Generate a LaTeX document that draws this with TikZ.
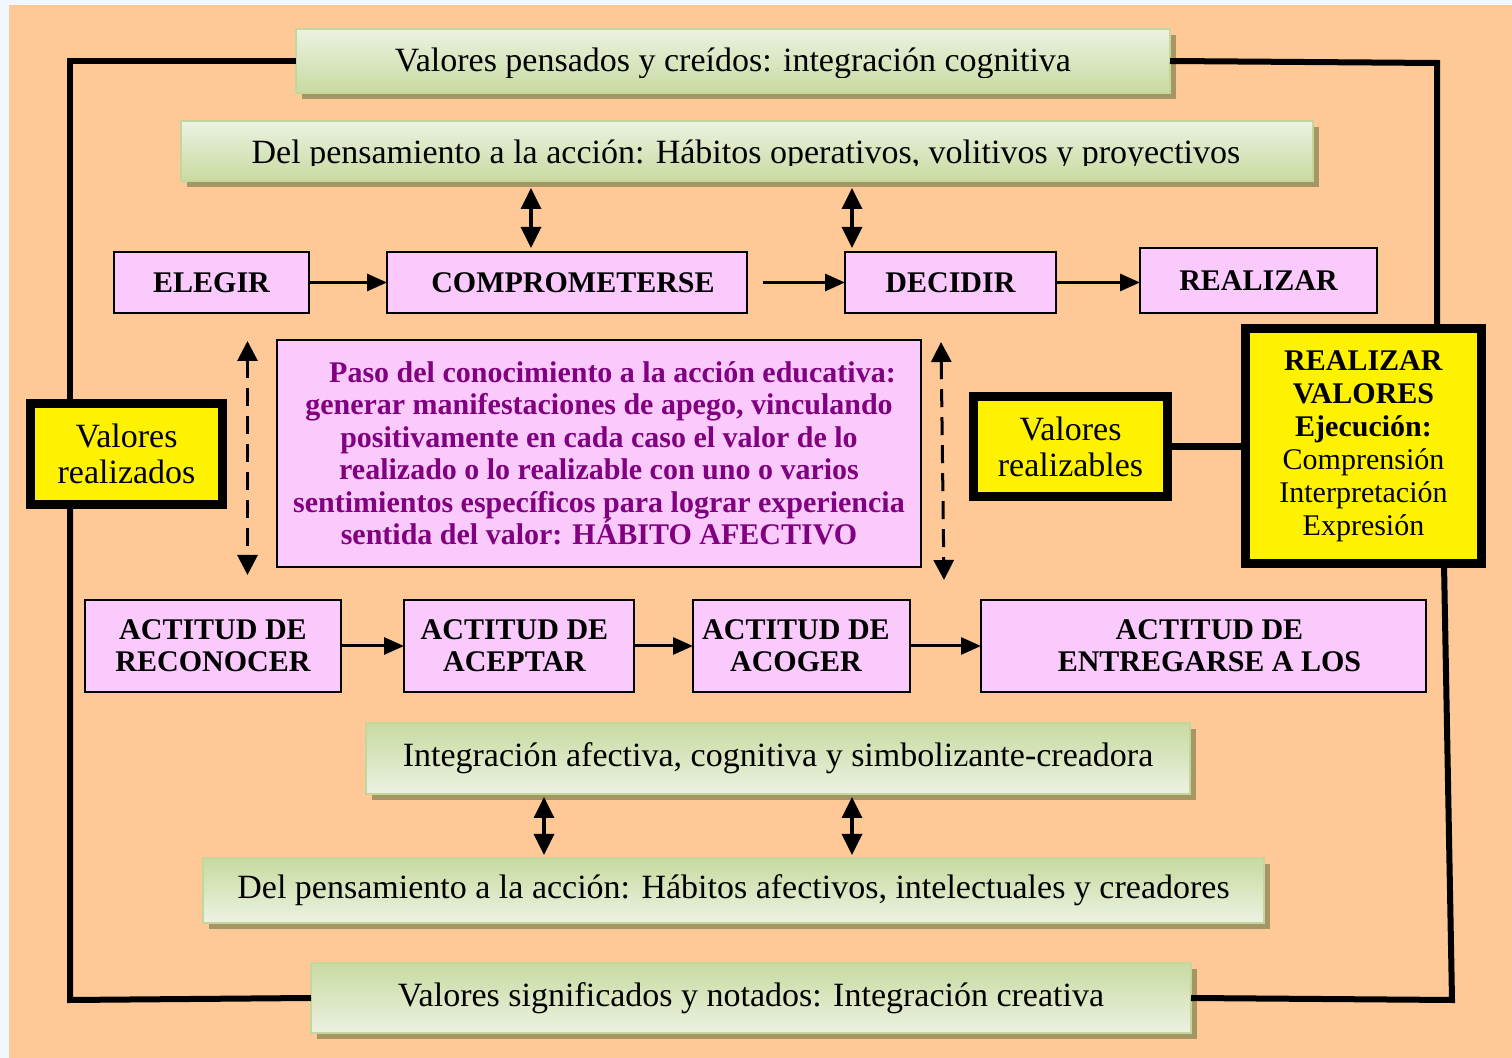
\documentclass[tikz,border=0pt]{standalone}
\usepackage{fontspec}
\setmainfont{Liberation Serif}
\usetikzlibrary{arrows.meta,calc,shadows}
\definecolor{pagebg}{RGB}{240,247,254}
\definecolor{bgorange}{RGB}{254,201,150}
\definecolor{gtop}{RGB}{236,242,226}
\definecolor{gbot}{RGB}{200,218,160}
\definecolor{gedge}{RGB}{196,214,155}
\definecolor{gshadow}{RGB}{166,150,100}
\definecolor{pinkfill}{RGB}{250,202,253}
\definecolor{ptext}{RGB}{128,0,128}
\tikzset{
  every node/.style={outer sep=0pt},
  gbox/.style={draw=gedge, line width=1pt, top color=gtop, bottom color=gbot, inner sep=0pt,
    font=\fontsize{17pt}{19pt}\selectfont,
    drop shadow={shadow xshift=3pt, shadow yshift=-3pt, fill=gshadow, opacity=1}},
  gboxr/.style={gbox, top color=gbot, bottom color=gtop},
  gtext/.style={anchor=base, inner sep=0pt, font=\fontsize{17pt}{19pt}\selectfont},
  pbox/.style={draw=black, line width=1.25pt, fill=pinkfill, inner sep=0pt, align=center,
    font=\bfseries\fontsize{15pt}{16pt}\selectfont},
  ybox/.style={draw=black, line width=4.5pt, fill=yellow, inner sep=0pt, align=center},
  arr/.style={line width=1.5pt, -{Triangle[length=10pt,width=8.5pt]}},
  darr/.style={line width=1.75pt, {Triangle[length=10.5pt,width=10pt]}-{Triangle[length=10.5pt,width=10pt]}},
  dasharr/.style={line width=1.5pt, dash pattern=on 9pt off 5pt,
    {Triangle[length=10pt,width=10pt]}-{Triangle[length=10pt,width=10pt]}},
  frameline/.style={line width=3pt, line join=miter},
}
\begin{document}
\begin{tikzpicture}[x=0.5pt,y=-0.5pt]
\useasboundingbox (0,0) rectangle (1512,1058);
\fill[pagebg] (0,0) rectangle (1512,1058);
\fill[bgorange] (9,5) rectangle (1512,1058);

% green boxes
\node[gbox, minimum width=437pt, minimum height=32pt] (g1) at (733,61) {};
\node[gbox, minimum width=566pt, minimum height=30pt] (g2) at (747,151) {};
\node[gboxr, minimum width=412pt, minimum height=35.5pt] (g3) at (778,758.5)
  {Integración afectiva, cognitiva y simbolizante-creadora};
\node[gboxr, minimum width=530.5pt, minimum height=32.5pt] (g4) at (733.5,890.5)
  {Del pensamiento a la acción: Hábitos afectivos, intelectuales y creadores};
\node[gboxr, minimum width=440pt, minimum height=35pt] (g5) at (751,998)
  {Valores significados y notados: Integración creativa};

\begin{scope}
  \clip (296,25) rectangle (1170,78);
  \node[gtext] (t1) at (733,72) {Valores pensados y creídos: integración cognitiva};
\end{scope}
\begin{scope}
  \clip (181,118) rectangle (1313,166);
  \node[gtext] (t2) at (746,164) {Del pensamiento a la acción: Hábitos operativos, volitivos y proyectivos};
\end{scope}

% top row
\node[pbox, minimum width=97.5pt, minimum height=30.5pt] (e1) at (211.5,282.5) {ELEGIR};
\node[pbox, minimum width=180pt, minimum height=30.5pt] (e2) at (567,282.5) {\hspace*{6pt}COMPROMETERSE};
\node[pbox, minimum width=105.5pt, minimum height=30.5pt] (e3) at (950.5,282.5) {DECIDIR};
\node[pbox, minimum width=118.5pt, minimum height=32.5pt] (e4) at (1258.5,280.5) {REALIZAR};

% bottom row
\node[pbox, minimum width=128pt, minimum height=46pt] (a1) at (213,646) {ACTITUD DE\\RECONOCER};
\node[pbox, minimum width=115pt, minimum height=46pt] (a2) at (519,646) {ACTITUD DE\hspace*{4.5pt}\\ACEPTAR\hspace*{4.5pt}};
\node[pbox, minimum width=108.5pt, minimum height=46pt] (a3) at (801.5,646) {ACTITUD DE\hspace*{5.5pt}\\ACOGER\hspace*{5.5pt}};
\node[pbox, minimum width=222.5pt, minimum height=46pt] (a4) at (1203.5,646) {\hspace*{6pt}ACTITUD DE\\\hspace*{6pt}ENTREGARSE A LOS};

% central box
\node[pbox, minimum width=322pt, minimum height=113.5pt, text=ptext,
  font=\bfseries\fontsize{15pt}{16.25pt}\selectfont] (c) at (599,453.5)
  {\hspace*{13.5pt}Paso del conocimiento a la acción educativa:\\
   generar manifestaciones de apego, vinculando\\
   positivamente en cada caso el valor de lo\\
   realizado o lo realizable con uno o varios\\
   sentimientos específicos para lograr experiencia\\
   sentida del valor: HÁBITO AFECTIVO};

% yellow boxes
\node[ybox, minimum width=96pt, minimum height=50.5pt, font=\fontsize{17pt}{18pt}\selectfont]
  (y1) at (126.5,454) {Valores\\realizados};
\node[ybox, minimum width=97pt, minimum height=50pt, font=\fontsize{17pt}{18pt}\selectfont]
  (y2) at (1070.5,446.5) {Valores\\realizables};
\node[ybox, minimum width=118pt, minimum height=117.5pt, font=\fontsize{15pt}{16.5pt}\selectfont]
  (y3) at (1363.5,446) {\textbf{REALIZAR}\\\textbf{VALORES}\\\textbf{Ejecución:}\\Comprensión\\Interpretación\\Expresión};

% frame
\coordinate (tl) at (70,61);
\coordinate (tr) at (1437,63);
\coordinate (br) at (1452,1000);
\coordinate (bl) at (70,1000);
\draw[frameline] (g1.west) -- (tl) -- (tl |- y1.north);
\draw[frameline] (tl |- y1.south) -- (bl) -- (g5.west);
\draw[frameline] (g1.east) -- (tr) -- ($(y3.north east)+(-44.5,0)$);
\draw[frameline] ($(y3.south east)+(-37.5,0)$) -- (br) -- (g5.east);
\draw[line width=3.5pt] (y2.east) -- (y2.east -| y3.west);

% arrows
\draw[arr] (e1.east) -- (e2.west);
\draw[arr] ($(e2.east)+(16,0)$) -- (e3.west);
\draw[arr] (e3.east) -- (e3.east -| e4.west);
\draw[arr] (a1.east) -- (a2.west);
\draw[arr] (a2.east) -- (a3.west);
\draw[arr] (a3.east) -- (a4.west);

\draw[darr] ($(g2.south west)+(350,7)$) -- ($(e2.north west)+(144,-4)$);
\draw[darr] ($(g2.south west)+(671,7)$) -- ($(e3.north west)+(7,-4)$);
\draw[darr] ($(g3.south west)+(178,3)$) -- ($(g4.north west)+(341,-3)$);
\draw[darr] ($(g3.south west)+(486,3)$) -- ($(g4.north west)+(649,-3)$);

\draw[dasharr] ($(e1.south west)+(133.5,28)$) -- ($(a1.north west)+(162.5,-25)$);
\draw[dasharr] ($(e3.south west)+(96,29)$) -- ($(a4.north west)+(-37,-20)$);
\end{tikzpicture}
\end{document}
